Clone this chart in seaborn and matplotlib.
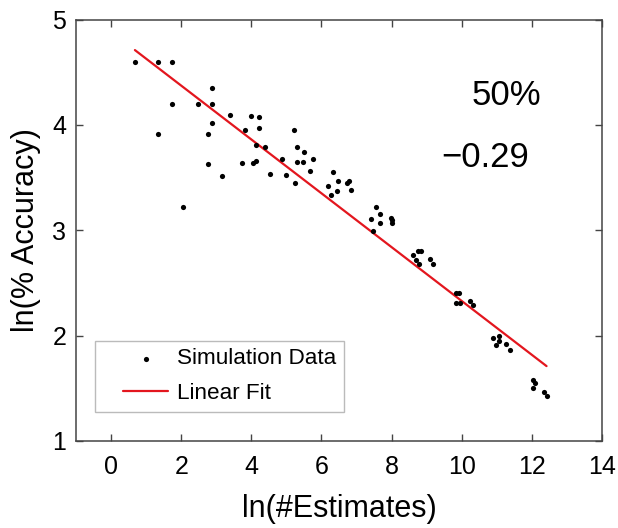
import numpy as np
import pandas as pd
import matplotlib
matplotlib.use("Agg")
import matplotlib.pyplot as plt
from matplotlib.legend_handler import HandlerLine2D, HandlerPathCollection
from matplotlib.collections import PathCollection
from matplotlib.lines import Line2D
import seaborn as sns

# Simulation data
sim_x = [0.68, 1.35, 1.75, 1.75, 1.35, 2.05, 2.47, 2.76, 2.76, 2.87, 2.87, 2.87,
         3.16, 3.38, 3.72, 3.81, 3.98, 4.21, 4.21, 4.12, 4.06, 4.12, 4.40, 4.53,
         4.88, 4.99, 5.21, 5.24, 5.31, 5.31, 5.47, 5.50, 5.68, 5.76,
         6.18, 6.34, 6.28, 6.44, 6.47, 6.72, 6.78, 6.84,
         7.42, 7.47, 7.55, 7.67, 7.67, 7.97, 8.00, 8.00,
         8.61, 8.70, 8.76, 8.84, 8.78, 9.10, 9.19,
         9.83, 9.83, 9.92, 9.94, 10.23, 10.32,
         10.90, 10.98, 11.05, 11.07, 11.27, 11.38,
         12.03, 12.09, 12.03, 12.35, 12.42]
sim_y = [4.60, 4.60, 4.60, 4.20, 3.91, 3.22, 4.20, 3.91, 3.63, 4.35, 4.20, 4.02,
         3.51, 4.09, 3.64, 3.95, 4.08, 4.07, 3.97, 3.81, 3.64, 3.66, 3.79, 3.53,
         3.68, 3.52, 3.95, 3.45, 3.79, 3.65, 3.65, 3.74, 3.56, 3.68,
         3.42, 3.55, 3.33, 3.37, 3.47, 3.45, 3.47, 3.38,
         3.11, 2.99, 3.22, 3.15, 3.07, 3.12, 3.07, 3.10,
         2.76, 2.72, 2.80, 2.80, 2.68, 2.73, 2.68,
         2.40, 2.31, 2.40, 2.31, 2.33, 2.29,
         1.98, 1.91, 2.00, 1.95, 1.92, 1.86,
         1.58, 1.55, 1.50, 1.46, 1.43]

# Linear fit line end points
fit_x = [0.68, 12.42]
fit_y = [4.71, 1.71]

x_ticks = [0, 2, 4, 6, 8, 10, 12, 14]
y_ticks = [1, 2, 3, 4, 5]
annot_pct = "50%"
annot_slope = "\u22120.29"

sns.set_theme(style="white")
plt.rcParams['font.family'] = ['Liberation Sans', 'DejaVu Sans']
plt.rcParams['text.color'] = 'black'
plt.rcParams['axes.labelcolor'] = 'black'
plt.rcParams['xtick.color'] = 'black'
plt.rcParams['ytick.color'] = 'black'

fig = plt.figure(figsize=(6.18, 5.28), dpi=100)
ax = fig.add_axes([0.123, 0.165, 0.851, 0.798])

df_sim = pd.DataFrame({"x": sim_x, "y": sim_y})
df_fit = pd.DataFrame({"x": fit_x, "y": fit_y})

sns.scatterplot(data=df_sim, x="x", y="y", ax=ax, color="black", s=14,
                linewidth=0, label="Simulation Data", zorder=3)
sns.lineplot(data=df_fit, x="x", y="y", ax=ax, color="#e3161e", linewidth=1.6,
             label="Linear Fit", zorder=2)

ax.set_xlim(-1, 14)
ax.set_ylim(1, 5)
ax.set_xticks(x_ticks)
ax.set_yticks(y_ticks)
ax.set_xlabel("ln(#Estimates)", fontsize=22, labelpad=11)
ax.set_ylabel("ln(% Accuracy)", fontsize=22, labelpad=8)
ax.tick_params(axis="both", which="both", direction="in", length=5, width=1,
               color="#444444", labelsize=18, top=True, right=True,
               bottom=True, left=True)
ax.tick_params(axis="x", pad=10)
ax.tick_params(axis="y", pad=7)
for sp in ax.spines.values():
    sp.set_color("#444444")
    sp.set_linewidth(1.1)
    sp.set_visible(True)

ax.text(11.27, 4.28, annot_pct, fontsize=25, ha="center", va="center")
ax.text(10.67, 3.69, annot_slope, fontsize=25, ha="center", va="center")

handles, labels = ax.get_legend_handles_labels()
hmap = {PathCollection: HandlerPathCollection(xpad=0.9),
        Line2D: HandlerLine2D(xpad=0.9)}
leg = ax.legend(handles, labels, loc="lower left", bbox_to_anchor=(0.036, 0.069),
                fontsize=16.2, frameon=True, fancybox=False, handlelength=2.9,
                handletextpad=0.4, borderpad=0.35, labelspacing=0.6,
                borderaxespad=0, handler_map=hmap)
leg.get_frame().set_edgecolor("#aaaaaa")
leg.get_frame().set_linewidth(1.0)

fig.savefig("out.png", dpi=100)
